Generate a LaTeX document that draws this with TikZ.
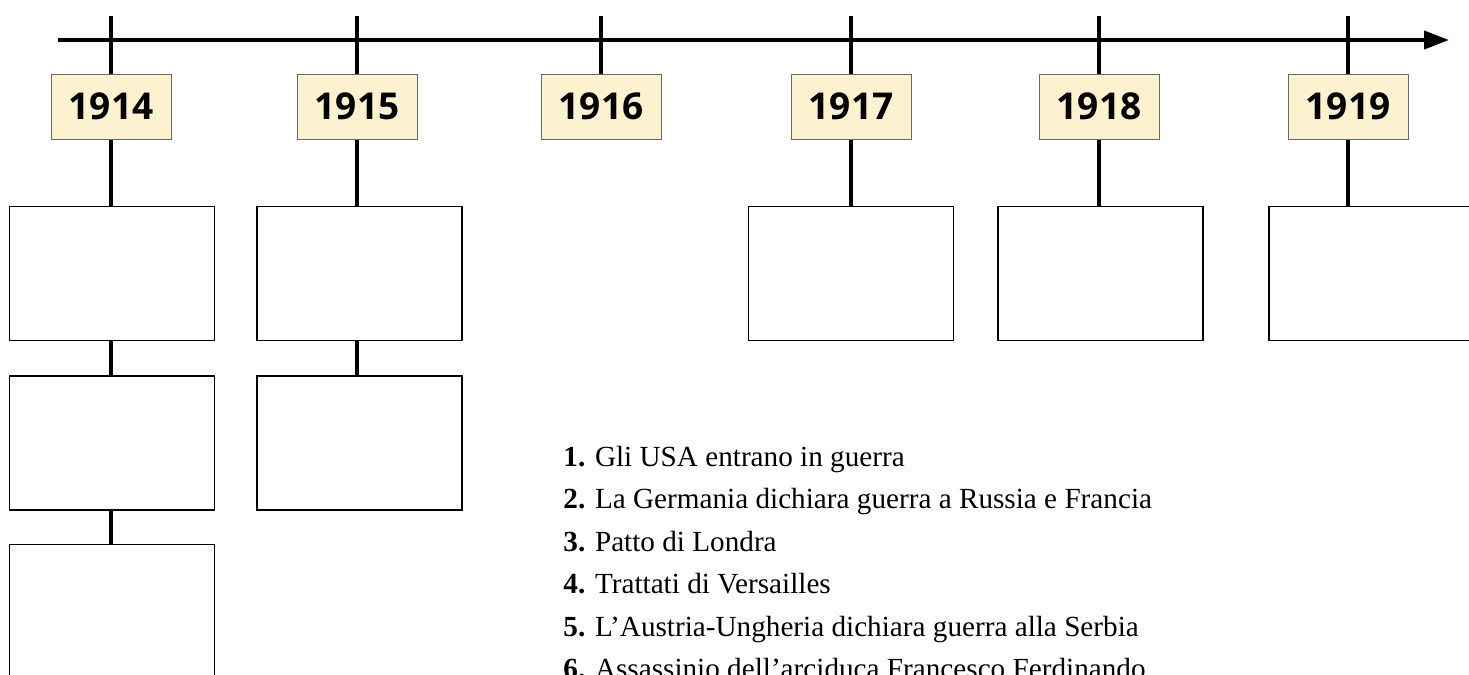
\documentclass[tikz,border=0pt]{standalone}
\usepackage{fontspec}
\setmainfont{Liberation Serif}
\newfontfamily\yearfont{Open Sans}
\usetikzlibrary{arrows.meta,positioning}
\definecolor{yearfill}{RGB}{253,242,208}
\definecolor{yearedge}{RGB}{105,105,105}
\begin{document}
\begin{tikzpicture}[x=0.5pt,y=-0.5pt]
    % Define Styles
        \tikzstyle{year} = [rectangle, draw=yearedge, fill=yearfill, text centered, minimum height=32.5pt, minimum width=60pt, inner sep=0pt, line width=0.5pt, font=\yearfont\bfseries\fontsize{18.5}{19}\selectfont]
        \tikzstyle{event} = [rectangle, draw, fill=white, minimum height=67pt, minimum width=102.5pt, inner sep=0pt, line width=0.75pt]
        \tikzstyle{stem} = [draw, line width=2pt]
        \tikzstyle{item} = [anchor=base west, inner sep=0pt, font=\fontsize{14.6}{17}\selectfont]
        \clip (0,0) rectangle (1469,675);
    % Time axis
        \coordinate (start) at (58,40);
        \coordinate (end) at (1449,40);
        \draw[line width=2pt, -{Triangle[length=12.5pt,width=9pt]}] (start) -- (end);
    % Place nodes
        \node [year] (y1914) at (111,106.5) {1914};
        \node [year] (y1915) at (357,106.5) {1915};
        \node [year] (y1916) at (601,106.5) {1916};
        \node [year] (y1917) at (851,106.5) {1917};
        \node [year] (y1918) at (1099,106.5) {1918};
        \node [year] (y1919) at (1348,106.5) {1919};
        \coordinate (t1914) at (111,16);
        \coordinate (t1915) at (357,16);
        \coordinate (t1916) at (601,16);
        \coordinate (t1917) at (851,16);
        \coordinate (t1918) at (1099,16);
        \coordinate (t1919) at (1348,16);
        \node [event, below = 33pt of y1914, xshift=0.5pt] (e1914a) {};
        \node [event, below = 17pt of e1914a] (e1914b) {};
        \node [event, below = 16.5pt of e1914b] (e1914c) {};
        \node [event, below = 33pt of y1915, xshift=1.25pt] (e1915a) {};
        \node [event, below = 17pt of e1915a] (e1915b) {};
        \node [event, below = 33pt of y1917] (e1917) {};
        \node [event, below = 33pt of y1918, xshift=0.75pt] (e1918) {};
        \node [event, below = 33pt of y1919, xshift=11.75pt] (e1919) {};
    % Edges
        \draw[stem] (t1914) -- (y1914);
        \draw[stem] (t1915) -- (y1915);
        \draw[stem] (t1916) -- (y1916);
        \draw[stem] (t1917) -- (y1917);
        \draw[stem] (t1918) -- (y1918);
        \draw[stem] (t1919) -- (y1919);
        \draw[stem] (y1914) -- (y1914 |- e1914a.north);
        \draw[stem] (y1914 |- e1914a.south) -- (y1914 |- e1914b.north);
        \draw[stem] (y1914 |- e1914b.south) -- (y1914 |- e1914c.north);
        \draw[stem] (y1915) -- (y1915 |- e1915a.north);
        \draw[stem] (y1915 |- e1915a.south) -- (y1915 |- e1915b.north);
        \draw[stem] (y1917) -- (e1917);
        \draw[stem] (y1918) -- (y1918 |- e1918.north);
        \draw[stem] (y1919) -- (y1919 |- e1919.north);
    % Events to place
        \node [item] (i1) at (563,466) {\textbf{1.} Gli USA entrano in guerra};
        \node [item] (i2) at (563,508.5) {\textbf{2.} La Germania dichiara guerra a Russia e Francia};
        \node [item] (i3) at (563,551) {\textbf{3.} Patto di Londra};
        \node [item] (i4) at (563,593.5) {\textbf{4.} Trattati di Versailles};
        \node [item] (i5) at (563,636) {\textbf{5.} L’Austria-Ungheria dichiara guerra alla Serbia};
        \node [item] (i6) at (563,678.5) {\textbf{6.} Assassinio dell’arciduca Francesco Ferdinando};
\end{tikzpicture}
\end{document}
